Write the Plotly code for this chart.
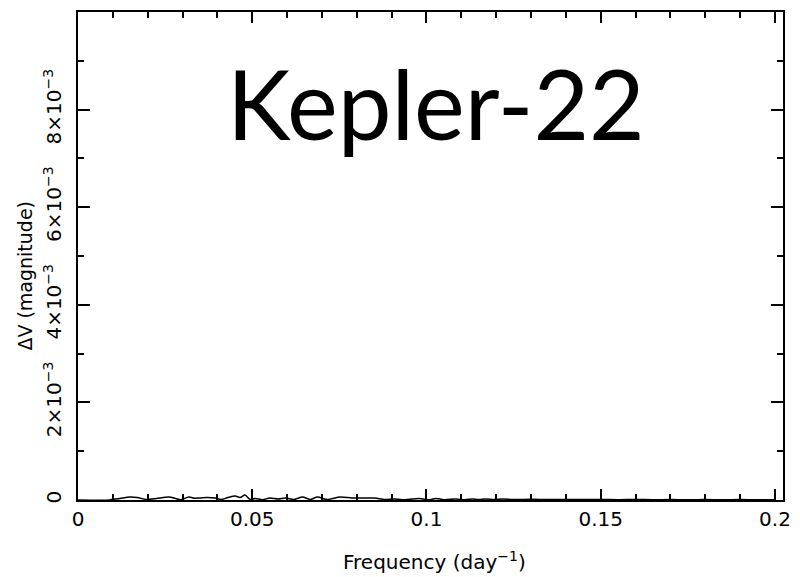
import plotly.graph_objects as go

# Amplitude spectrum of the Kepler-22 light curve
freq = [0.0, 0.0090, 0.0096, 0.0120, 0.0148, 0.0170, 0.0196, 0.0225, 0.0261, 0.0280,
        0.0295, 0.0318, 0.0335, 0.0350, 0.0370, 0.0394, 0.0411, 0.0430, 0.0451, 0.0465,
        0.0479, 0.0494, 0.0508, 0.0530, 0.0550, 0.0575, 0.0595, 0.0620, 0.0644, 0.0667,
        0.0687, 0.0715, 0.0752, 0.0786, 0.0814, 0.0851, 0.0880, 0.0908, 0.0930, 0.0979,
        0.1010, 0.1027, 0.1050, 0.1084, 0.1110, 0.1132, 0.1150, 0.1169, 0.1195, 0.1217,
        0.1250, 0.1300, 0.1350, 0.1400, 0.1450, 0.1500, 0.1550, 0.1600, 0.1650, 0.1700,
        0.1750, 0.1800, 0.1850, 0.1900, 0.1950, 0.2000]
dv = [0.0, 0.0, 1.0e-5, 3.1e-5, 6.1e-5, 5.1e-5, 1.0e-5, 3.1e-5, 6.1e-5, 3.1e-5,
      0.6e-5, 6.1e-5, 3.7e-5, 4.1e-5, 5.1e-5, 4.1e-5, 1.0e-5, 5.1e-5, 8.2e-5, 5.1e-5,
      10.2e-5, 1.0e-5, 3.1e-5, 0.6e-5, 4.1e-5, 2.0e-5, 4.1e-5, 1.0e-5, 6.1e-5, 1.0e-5,
      6.1e-5, 1.0e-5, 6.1e-5, 4.1e-5, 4.1e-5, 4.1e-5, 1.0e-5, 2.0e-5, 0.6e-5, 3.1e-5,
      0.6e-5, 3.1e-5, 0.6e-5, 2.0e-5, 0.6e-5, 2.0e-5, 0.8e-5, 2.0e-5, 0.8e-5, 2.0e-5,
      1.0e-5, 1.4e-5, 0.8e-5, 1.2e-5, 0.8e-5, 1.0e-5, 0.6e-5, 1.0e-5, 0.6e-5, 0.8e-5,
      0.6e-5, 0.8e-5, 0.6e-5, 0.8e-5, 0.6e-5, 0.6e-5]

x_ticks = [0, 0.05, 0.1, 0.15, 0.2]
x_labels = ["0", "0.05", "0.1", "0.15", "0.2"]
y_ticks = [0, 0.002, 0.004, 0.006, 0.008]
y_labels = ["0", "2×10<sup>−3</sup>", "4×10<sup>−3</sup>",
            "6×10<sup>−3</sup>", "8×10<sup>−3</sup>"]

title_text = "Kepler-22"
x_title = "Frequency (day<sup>−1</sup>)"
y_title = "ΔV (magnitude)"

FONT = "DejaVu Sans"

fig = go.Figure()
fig.add_trace(go.Scatter(
    x=freq, y=dv, mode="lines",
    line=dict(color="black", width=1.5, shape="spline", smoothing=0.8),
    showlegend=False, hoverinfo="skip",
))

axis_common = dict(
    showline=True, linecolor="black", linewidth=2, mirror="ticks",
    ticks="inside", tickcolor="black", tickwidth=1.5,
    showgrid=False, zeroline=False,
)

fig.update_xaxes(
    range=[0, 0.2023], tickvals=x_ticks, ticktext=x_labels, ticklen=11,
    tickfont=dict(family=FONT, size=20, color="black"),
    minor=dict(dtick=0.01, ticks="inside", ticklen=6, tickcolor="black", tickwidth=1.5),
    **axis_common,
)
fig.update_yaxes(
    range=[0, 0.01], tickvals=y_ticks, ticktext=y_labels, ticklen=12,
    tickangle=-90, ticklabelstandoff=7,
    tickfont=dict(family=FONT, size=20, color="black"),
    minor=dict(dtick=0.001, ticks="inside", ticklen=6, tickcolor="black", tickwidth=1.5),
    **axis_common,
)

L, R, T, B = 78, 9, 12, 77
W, H = 800, 577
pw, ph = W - L - R, H - T - B


def px(x):
    return (x - L) / pw


def py(y):
    return (H - B - y) / ph


fig.add_annotation(text=title_text, x=px(440), y=py(102), xref="paper", yref="paper",
                   showarrow=False, xanchor="center", yanchor="middle",
                   font=dict(family="Lato", size=96, color="black"))
fig.add_annotation(text=x_title, x=px(439), y=py(561), xref="paper", yref="paper",
                   showarrow=False, xanchor="center", yanchor="middle",
                   font=dict(family=FONT, size=20, color="black"))
fig.add_annotation(text=y_title, x=px(24), y=py(276), xref="paper", yref="paper",
                   showarrow=False, xanchor="center", yanchor="middle", textangle=-90,
                   font=dict(family=FONT, size=19, color="black"))

fig.update_layout(
    width=W, height=H,
    margin=dict(l=L, r=R, t=T, b=B),
    paper_bgcolor="white", plot_bgcolor="white",
)

fig.write_html("out.html")
